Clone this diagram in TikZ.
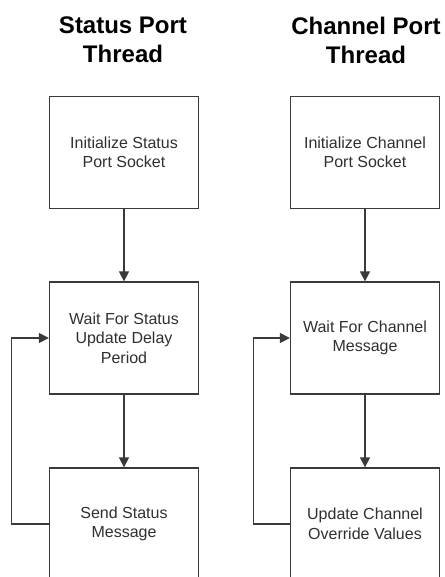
\documentclass[tikz,border=0pt]{standalone}
\usepackage{fontspec}
\setmainfont{Liberation Sans}
\usetikzlibrary{arrows.meta}
\definecolor{linegray}{HTML}{3A3A3A}
\definecolor{textgray}{HTML}{303030}
\tikzset{
  x=1pt, y=-1pt,
  title/.style={font=\fontsize{24}{29}\selectfont\bfseries, align=center, text=black},
  stepbox/.style={draw=linegray, line width=1.3pt, rectangle,
    minimum width=149pt, minimum height=112pt, inner sep=0pt,
    align=center, text=textgray, font=\fontsize{16}{19.5}\selectfont},
  flow/.style={draw=linegray, line width=1.3pt,
    -{Triangle[length=10pt,width=10pt]}},
}
\begin{document}
\begin{tikzpicture}
\useasboundingbox (0,0) rectangle (444,577);
\clip (0,0) rectangle (444,577);
\fill[white] (0,0) rectangle (444,577);

% thread headings
\node[title] (t1) at (123,40) {Status Port\\Thread};
\node[title] (t2) at (366,40) {Channel Port\\Thread};

% status port thread
\node[stepbox] (s1) at (124,152.5) {Initialize Status\\Port Socket};
\node[stepbox] (s2) at (124,338) {Wait For Status\\Update Delay\\Period};
\node[stepbox] (s3) at (124,524) {Send Status\\Message};

% channel port thread
\node[stepbox] (c1) at (365,152.5) {Initialize Channel\\Port Socket};
\node[stepbox] (c2) at (365,338) {Wait For Channel\\Message};
\node[stepbox] (c3) at (365,524) {Update Channel\\Override Values};

% forward steps
\draw[flow] (s1) -- (s2);
\draw[flow] (s2) -- (s3);
\draw[flow] (c1) -- (c2);
\draw[flow] (c2) -- (c3);

% loops back to the waiting step
\draw[flow] (s3.west) -- ++(-37.5,0) |- (s2.west);
\draw[flow] (c3.west) -- ++(-36.5,0) |- (c2.west);
\end{tikzpicture}
\end{document}
